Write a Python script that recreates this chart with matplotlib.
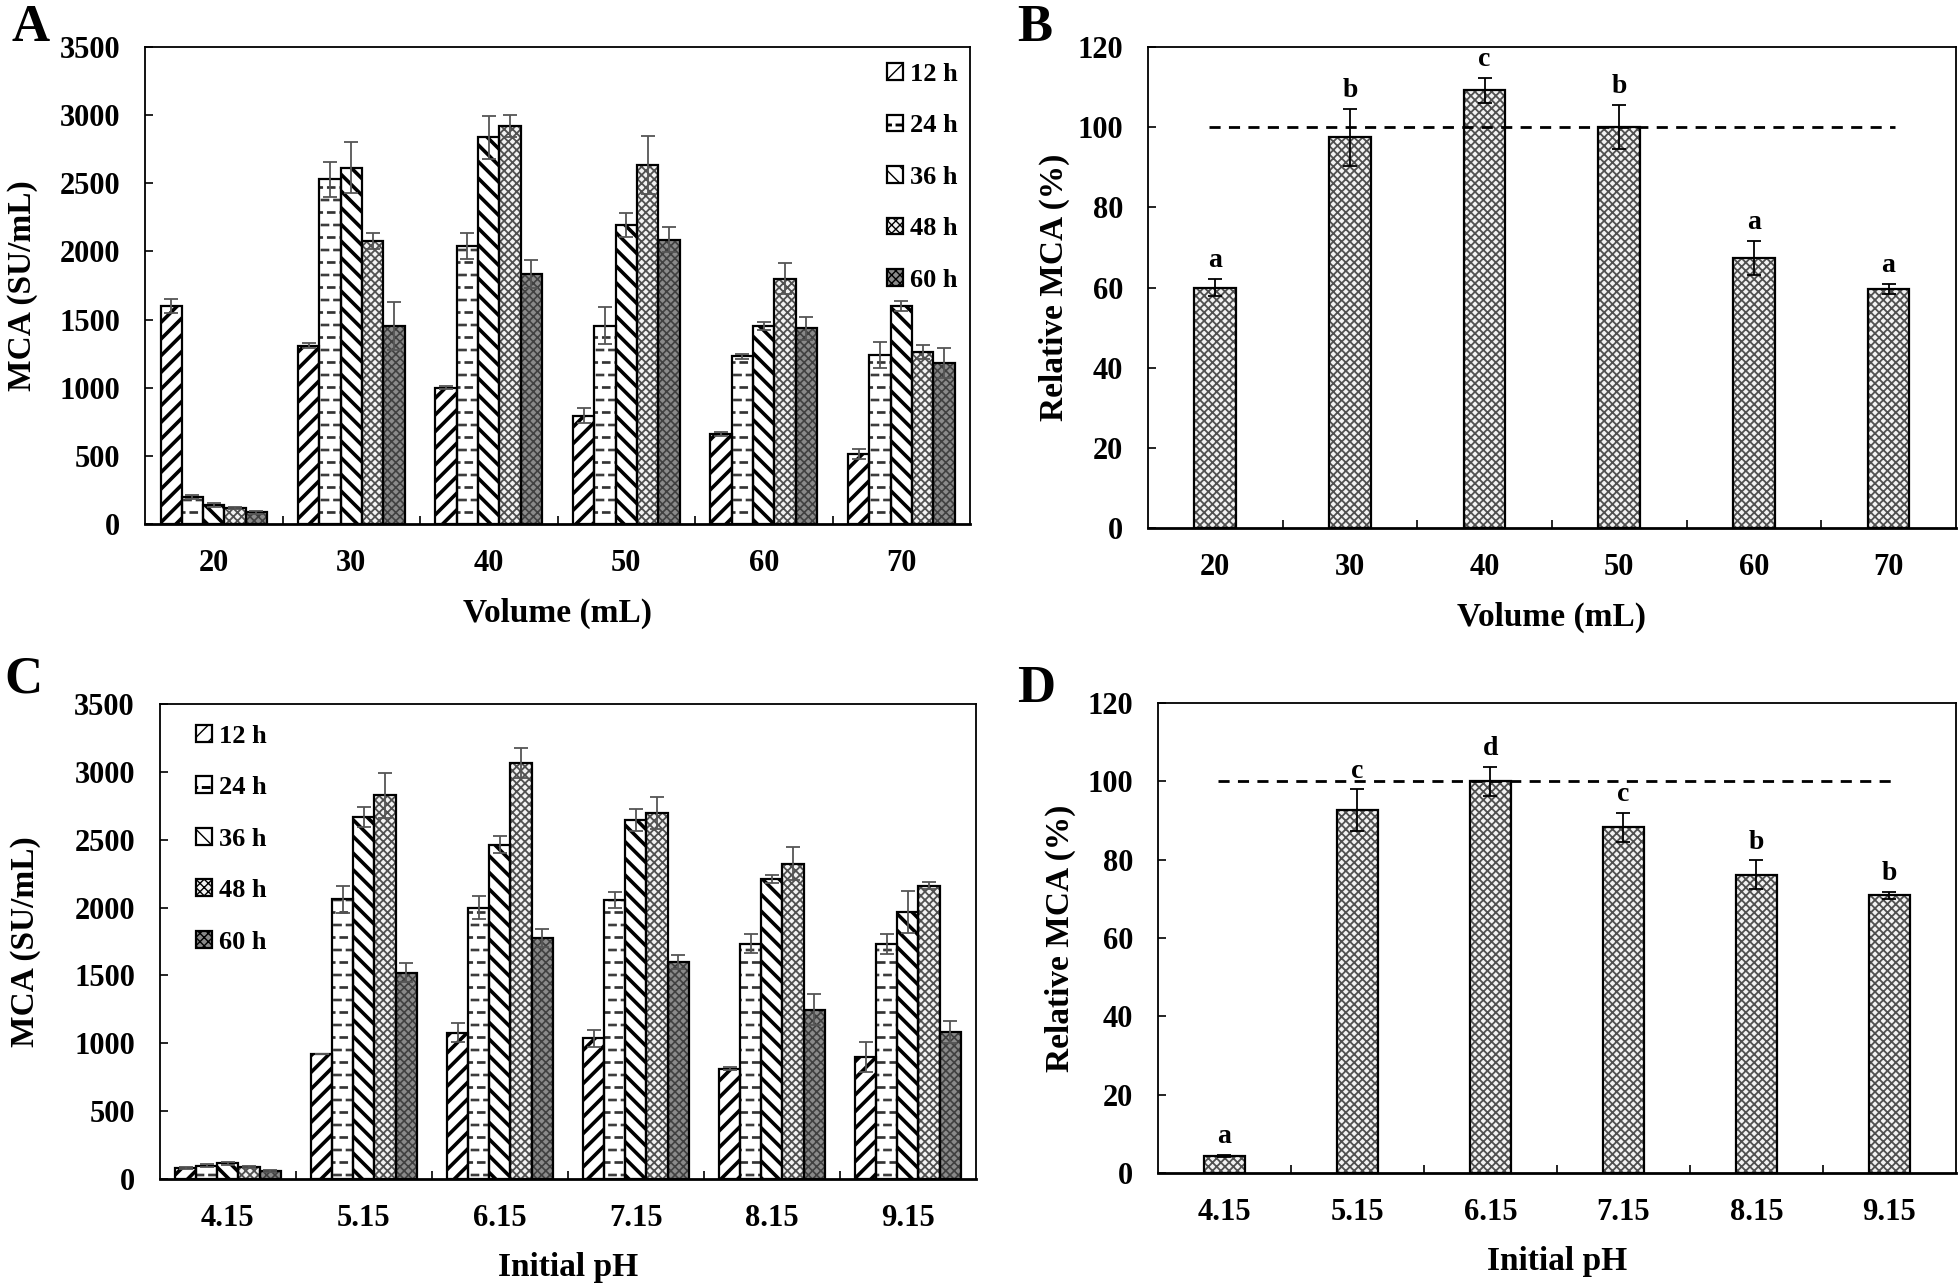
import matplotlib.pyplot as plt
from matplotlib import hatch as mhatch
from matplotlib.path import Path
from matplotlib.patches import Patch
import numpy as np
import warnings

warnings.filterwarnings('ignore')

plt.rcParams['font.family'] = ['Liberation Serif', 'DejaVu Serif']
plt.rcParams['font.weight'] = 'bold'
plt.rcParams['axes.labelweight'] = 'bold'

# panel A: volume series
volumes = ['20', '30', '40', '50', '60', '70']
hours = ['12 h', '24 h', '36 h', '48 h', '60 h']
vol_mca = [
    [1600, 1310, 1000, 795, 660, 513],      # 12 h
    [200, 2530, 2038, 1456, 1231, 1240],    # 24 h
    [140, 2615, 2837, 2194, 1456, 1600],    # 36 h
    [120, 2077, 2918, 2633, 1801, 1261],    # 48 h
    [85, 1453, 1834, 2086, 1435, 1180],     # 60 h
]
vol_err = [
    [55, 20, 12, 55, 15, 36],
    [15, 130, 95, 138, 18, 93],
    [15, 185, 160, 90, 30, 39],
    [8, 60, 80, 213, 114, 51],
    [8, 175, 100, 93, 84, 111],
]

# panel B
vol_rel = [60.0, 97.5, 109.2, 100.0, 67.3, 59.6]
vol_rel_err = [2.1, 7.1, 3.2, 5.5, 4.2, 1.3]
vol_letters = ['a', 'b', 'c', 'b', 'a', 'a']

# panel C: pH series
ph = ['4.15', '5.15', '6.15', '7.15', '8.15', '9.15']
ph_mca = [
    [82, 924, 1076, 1036, 812, 900],
    [97, 2061, 2000, 2055, 1733, 1733],
    [115, 2667, 2464, 2645, 2212, 1970],
    [91, 2827, 3067, 2694, 2324, 2161],
    [61, 1521, 1779, 1600, 1248, 1082],
]
ph_err = [
    [8, 0, 70, 61, 12, 109],
    [10, 100, 85, 57, 70, 73],
    [10, 75, 60, 79, 30, 154],
    [8, 167, 109, 118, 121, 27],
    [6, 67, 66, 52, 116, 82],
]

# panel D
ph_rel = [4.4, 92.6, 100.0, 88.2, 76.1, 70.9]
ph_rel_err = [0.3, 5.3, 3.7, 3.8, 3.7, 0.9]
ph_letters = ['a', 'c', 'd', 'c', 'b', 'b']


# short staggered dashes, like the Excel "small dash" fill
class Dashes(mhatch.Shapes):
    size = 0.3
    filled = True

    def __init__(self, hatch, density):
        self.num_rows = 8 if 'd' in hatch else 0
        self.shape_vertices = np.array([[-1, -0.2], [1, -0.2], [1, 0.2], [-1, 0.2], [-1, -0.2]])
        self.shape_codes = np.array([Path.MOVETO, Path.LINETO, Path.LINETO, Path.LINETO,
                                     Path.CLOSEPOLY], dtype=Path.code_type)
        super().__init__(hatch, density)


try:
    mhatch._hatch_types.append(Dashes)
    dash_hatch = 'd'
except Exception:
    dash_hatch = '-'

styles = [
    dict(facecolor='white', hatch='//', hlw=2.6, hcolor='black'),
    dict(facecolor='white', hatch=dash_hatch, hlw=0.8, hcolor='#333333'),
    dict(facecolor='white', hatch='\\\\', hlw=2.6, hcolor='black'),
    dict(facecolor='#f2f2f2', hatch='xxxx', hlw=1.3, hcolor='#505050'),
    dict(facecolor='#8a8a8a', hatch='xxxx', hlw=1.2, hcolor='#404040'),
]
FS = 22


def style_axes(ax, ymax, ystep, labels, xlabel, ylabel, ylab_x):
    ax.set_xlim(-0.5, 5.5)
    ax.set_ylim(0, ymax)
    ax.set_yticks(np.arange(0, ymax + 1, ystep))
    ax.set_xticks(np.arange(len(labels)))
    ax.set_xticklabels(labels)
    ax.set_xticks(np.arange(0.5, 5, 1), minor=True)
    ax.tick_params(axis='x', which='major', length=0, pad=18, labelsize=FS)
    ax.tick_params(axis='x', which='minor', direction='in', length=6, width=1.2)
    ax.tick_params(axis='y', direction='in', length=6, width=1.2, labelsize=FS, pad=18)
    for sp in ax.spines.values():
        sp.set_linewidth(1.3)
    ax.spines['bottom'].set_linewidth(2)
    ax.set_xlabel(xlabel, fontsize=FS + 2, labelpad=14)
    ax.set_ylabel(ylabel, fontsize=FS + 2)
    ax.yaxis.set_label_coords(ylab_x, 0.5)


def grouped(ax, data, errs):
    x = np.arange(6)
    w = 0.155
    for i, (vals, e) in enumerate(zip(data, errs)):
        st = styles[i]
        pos = x + (i - 2) * w
        bars = ax.bar(pos, vals, w, color=st['facecolor'], edgecolor=st['hcolor'],
                      hatch=st['hatch'], linewidth=0, zorder=2)
        for b in bars:
            if hasattr(b, 'set_hatch_linewidth'):
                b.set_hatch_linewidth(st['hlw'])
        ax.bar(pos, vals, w, fill=False, edgecolor='black', linewidth=1.6, zorder=3)
        ax.errorbar(pos, vals, yerr=e, fmt='none', ecolor='#555555', elinewidth=1.3,
                    capsize=5, capthick=1.3, zorder=4)


def legend_handles():
    hs = []
    for i, st in enumerate(styles):
        hs.append(Patch(facecolor=st['facecolor'], edgecolor='black', hatch=st['hatch'],
                        linewidth=1.6, label=hours[i]))
    return hs


def single(ax, vals, errs, letters):
    x = np.arange(6)
    st = styles[3]
    bars = ax.bar(x, vals, 0.31, color=st['facecolor'], edgecolor=st['hcolor'],
                  hatch=st['hatch'], linewidth=0, zorder=2)
    for b in bars:
        if hasattr(b, 'set_hatch_linewidth'):
            b.set_hatch_linewidth(st['hlw'])
    ax.bar(x, vals, 0.31, fill=False, edgecolor='black', linewidth=1.6, zorder=3)
    ax.errorbar(x, vals, yerr=errs, fmt='none', ecolor='black', elinewidth=1.3,
                capsize=5, capthick=1.3, zorder=4)
    ax.plot([-0.05, 5.05], [100, 100], ls=(0, (4, 3)), color='black', lw=2, zorder=5)
    for xi, v, e, t in zip(x, vals, errs, letters):
        ax.text(xi, v + e + 1.5, t, ha='center', va='bottom', fontsize=FS - 2)


fig = plt.figure(figsize=(19.6, 12.86), dpi=100)
axA = fig.add_axes([0.074, 0.5925, 0.4209, 0.3709])
axB = fig.add_axes([0.5857, 0.5894, 0.4122, 0.374])
axC = fig.add_axes([0.0816, 0.0832, 0.4163, 0.3694])
axD = fig.add_axes([0.5908, 0.0879, 0.4071, 0.3655])

leg_kw = dict(frameon=False, fontsize=FS - 3, labelspacing=1.08, handlelength=0.6,
              handleheight=0.6, handletextpad=0.25, borderaxespad=0.2)

grouped(axA, vol_mca, vol_err)
style_axes(axA, 3500, 500, volumes, 'Volume (mL)', 'MCA (SU/mL)', -0.130)
axA.legend(handles=legend_handles(), loc='upper right', bbox_to_anchor=(1.004, 1.0), **leg_kw)

single(axB, vol_rel, vol_rel_err, vol_letters)
style_axes(axB, 120, 20, volumes, 'Volume (mL)', 'Relative MCA (%)', -0.0965)

grouped(axC, ph_mca, ph_err)
style_axes(axC, 3500, 500, ph, 'Initial pH', 'MCA (SU/mL)', -0.146)
axC.legend(handles=legend_handles(), loc='upper left', bbox_to_anchor=(0.025, 0.99), **leg_kw)

single(axD, ph_rel, ph_rel_err, ph_letters)
style_axes(axD, 120, 20, ph, 'Initial pH', 'Relative MCA (%)', -0.103)

fig.text(0.006, 0.997, 'A', fontsize=38, va='top', ha='left')
fig.text(0.519, 0.997, 'B', fontsize=38, va='top', ha='left')
fig.text(0.002, 0.49, 'C', fontsize=38, va='top', ha='left')
fig.text(0.519, 0.483, 'D', fontsize=38, va='top', ha='left')

fig.savefig('out.png', dpi=100)
